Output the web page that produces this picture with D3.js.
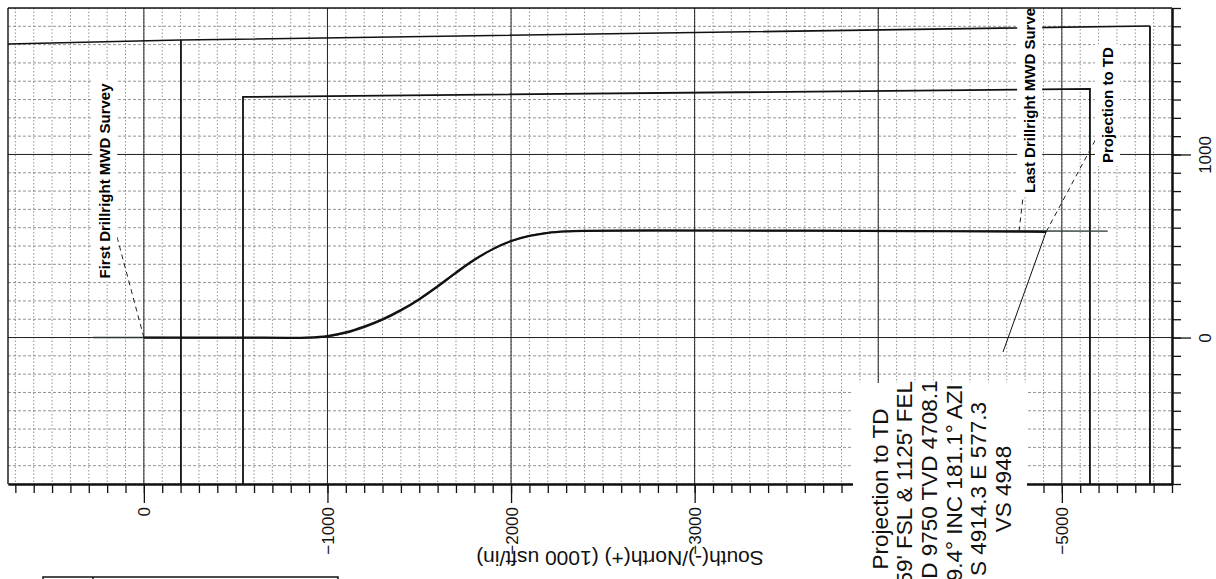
<!DOCTYPE html>
<html>
<head>
<meta charset="utf-8">
<script src="https://cdn.jsdelivr.net/npm/d3@7"></script>
<style>
  body { margin: 0; background: #fff; }
  svg { display: block; font-family: "Liberation Sans", Arial, sans-serif; }
</style>
</head>
<body>
<div id="chart"></div>
<script>
// plan view, rotated: horizontal = South(-)/North(+), vertical = West(-)/East(+), feet
const nsTicks = [0, -1000, -2000, -3000, -4000, -5000];
const ewTicks = [0, 1000];

// planned well path (ns, ew)
const planNS = [275, 0, -900, -1000, -1100, -1200, -1300, -1400, -1500, -1600, -1700, -1800, -1900, -2000, -2100, -2200, -2300, -2400, -3500, -4500, -5250];
const planEW = [0, 0, 0, 6, 24, 55, 95, 146, 206, 276, 351, 422, 481, 526, 555, 572, 580, 583, 583, 582, 581];

// actual surveys (ns, ew)
const surveyNS = [0, -500, -900, -1000, -1100, -1200, -1300, -1400, -1500, -1600, -1700, -1800, -1900, -2000, -2100, -2200, -2300, -2400, -2750, -3500, -4200, -4767, -4914.3];
const surveyEW = [0, 0, 0, 8, 28, 60, 100, 150, 210, 280, 355, 425, 483, 527, 555, 572, 580, 583, 585, 584, 581, 579, 577.3];

// lease / section lines and setbacks
const sectionNS = [740, -202, -5480];
const sectionEW = [1603, 1625, 1702];
const setbackNS = [-540, -5153];
const setbackEW = [1314, 1358];

// annotations
const noteNames = ["First Drillright MWD Survey", "Last Drillright MWD Survey", "Projection to TD"];
const notePointNS = [0, -4767, -4914.3];
const notePointEW = [0, 580, 577.3];
const noteLeadNS = [146, -4788, -5191];
const noteLeadEW = [549, 763, 1095];
const noteTextNS = [212, -4826, -5250];
const noteTextEW = [855, 790, 953];

const tdLines = ["Projection to TD", "259' FSL & 1125' FEL", "MD 9750 TVD 4708.1", "89.4° INC 181.1° AZI", "S 4914.3 E 577.3", "VS 4948"];

const W = 1216, H = 579;
const plot = {left: 8, right: 1172, top: 8, bottom: 484};

const x = d3.scaleLinear().domain([740, -5600]).range([plot.left, plot.right]);
const y = d3.scaleLinear().domain([-800, 1800]).range([plot.bottom, plot.top]);

const svg = d3.select("#chart").append("svg").attr("width", W).attr("height", H);
svg.append("rect").attr("width", W).attr("height", H).attr("fill", "#fff");

svg.append("defs").append("clipPath").attr("id", "clip")
  .append("rect").attr("x", plot.left).attr("y", plot.top)
  .attr("width", plot.right - plot.left).attr("height", plot.bottom - plot.top);

const g = svg.append("g").attr("clip-path", "url(#clip)");

// minor grid
const minorNS = d3.range(700, -5601, -100);
const minorEW = d3.range(-800, 1801, 100);
g.selectAll(".vminor").data(minorNS).enter().append("line")
  .attr("x1", d => x(d)).attr("x2", d => x(d))
  .attr("y1", plot.top).attr("y2", plot.bottom)
  .attr("stroke", "#777").attr("stroke-width", 0.8).attr("stroke-dasharray", "1.5,2");
g.selectAll(".hminor").data(minorEW).enter().append("line")
  .attr("y1", d => y(d)).attr("y2", d => y(d))
  .attr("x1", plot.left).attr("x2", plot.right)
  .attr("stroke", "#777").attr("stroke-width", 0.8).attr("stroke-dasharray", "3,2");

// major grid
g.selectAll(".vmajor").data(nsTicks).enter().append("line")
  .attr("x1", d => x(d)).attr("x2", d => x(d))
  .attr("y1", plot.top).attr("y2", plot.bottom)
  .attr("stroke", "#222").attr("stroke-width", 1);
g.selectAll(".hmajor").data(ewTicks).enter().append("line")
  .attr("y1", d => y(d)).attr("y2", d => y(d))
  .attr("x1", plot.left).attr("x2", plot.right)
  .attr("stroke", "#222").attr("stroke-width", 1);

// section lines
const line = d3.line().x(d => x(d[0])).y(d => y(d[1]));
const secPts = sectionNS.map((d, i) => [d, sectionEW[i]]);
g.append("path").attr("d", line(secPts)).attr("fill", "none").attr("stroke", "#111").attr("stroke-width", 1.6);
[1, 2].forEach(i => {
  g.append("path").attr("d", line([[sectionNS[i], sectionEW[i]], [sectionNS[i], -800]]))
    .attr("fill", "none").attr("stroke", "#111").attr("stroke-width", 1.8);
});
// setback lines
g.append("path")
  .attr("d", line([[setbackNS[0], -800], [setbackNS[0], setbackEW[0]], [setbackNS[1], setbackEW[1]], [setbackNS[1], -800]]))
  .attr("fill", "none").attr("stroke", "#111").attr("stroke-width", 1.8);

// well paths
const wellLine = d3.line().x(d => x(d[0])).y(d => y(d[1])).curve(d3.curveCatmullRom.alpha(0.5));
g.append("path").attr("d", wellLine(planNS.map((d, i) => [d, planEW[i]])))
  .attr("fill", "none").attr("stroke", "#2a3a30").attr("stroke-width", 1.4);
g.append("path").attr("d", wellLine(surveyNS.map((d, i) => [d, surveyEW[i]])))
  .attr("fill", "none").attr("stroke", "#111").attr("stroke-width", 2.2);

// annotation leaders and labels
noteNames.forEach((name, i) => {
  g.append("line")
    .attr("x1", x(notePointNS[i])).attr("y1", y(notePointEW[i]))
    .attr("x2", x(noteLeadNS[i])).attr("y2", y(noteLeadEW[i]))
    .attr("stroke", "#222").attr("stroke-width", 1).attr("stroke-dasharray", "5,4");
  const tg = g.append("g")
    .attr("transform", `translate(${x(noteTextNS[i])},${y(noteTextEW[i])}) rotate(-90)`);
  const t = tg.append("text")
    .attr("text-anchor", i === 0 ? "middle" : "start")
    .attr("dy", "0.35em")
    .style("font-size", "15px").style("font-weight", "bold")
    .text(name);
  const bb = t.node().getBBox();
  tg.insert("rect", "text")
    .attr("x", bb.x - 3).attr("y", bb.y - 4)
    .attr("width", bb.width + 6).attr("height", bb.height + 8)
    .attr("fill", "#fff");
});

// frame
svg.append("line").attr("x1", plot.left).attr("x2", plot.left).attr("y1", plot.top).attr("y2", plot.bottom)
  .attr("stroke", "#111").attr("stroke-width", 1.4);
svg.append("line").attr("x1", plot.left).attr("x2", plot.right).attr("y1", plot.top).attr("y2", plot.top)
  .attr("stroke", "#111").attr("stroke-width", 1.4);

// bottom axis
const bottomMinor = svg.append("g").attr("transform", `translate(0,${plot.bottom})`)
  .call(d3.axisBottom(x).tickValues(minorNS).tickSize(9).tickFormat("").tickSizeOuter(0));
const bottomMajor = svg.append("g").attr("transform", `translate(0,${plot.bottom})`)
  .call(d3.axisBottom(x).tickValues(nsTicks).tickSize(19).tickSizeOuter(0).tickFormat(d3.format("d")));
bottomMajor.selectAll("text")
  .attr("x", -23).attr("y", 0).attr("dy", "0.35em")
  .attr("transform", "rotate(-90)")
  .style("text-anchor", "end").style("font-size", "17px")
  .style("font-family", "'Liberation Sans', Arial, sans-serif").attr("fill", "#111");

// right axis
const rightMinor = svg.append("g").attr("transform", `translate(${plot.right},0)`)
  .call(d3.axisRight(y).tickValues(minorEW).tickSize(9).tickFormat("").tickSizeOuter(0));
const rightMajor = svg.append("g").attr("transform", `translate(${plot.right},0)`)
  .call(d3.axisRight(y).tickValues(ewTicks).tickSize(19).tickSizeOuter(0).tickFormat(d3.format("d")));
rightMajor.selectAll("text")
  .attr("x", 0).attr("y", 0).attr("dy", "0.35em")
  .attr("transform", "translate(33,0) rotate(-90)")
  .style("text-anchor", "middle").style("font-size", "17px")
  .style("font-family", "'Liberation Sans', Arial, sans-serif").attr("fill", "#111");

[bottomMinor, bottomMajor, rightMinor, rightMajor].forEach(a => {
  a.selectAll("line").attr("stroke", "#111").attr("stroke-width", 1.3);
  a.select(".domain").attr("stroke", "#111").attr("stroke-width", 2);
});

// axis title (upside down)
svg.append("text")
  .attr("transform", "translate(620,558) rotate(180)")
  .attr("text-anchor", "middle").attr("dominant-baseline", "central")
  .style("font-size", "21px").attr("fill", "#111")
  .text("South(-)/North(+) (1000 usft/in)");

// projection to TD box
const boxX = 853, boxY = 383;
svg.append("line")
  .attr("x1", 1003).attr("y1", 352)
  .attr("x2", x(notePointNS[2])).attr("y2", y(notePointEW[2]))
  .attr("stroke", "#111").attr("stroke-width", 1);
svg.append("rect").attr("x", boxX).attr("y", boxY).attr("width", 174).attr("height", H - boxY).attr("fill", "#fff");
svg.selectAll(".tdline").data(tdLines).enter().append("text")
  .attr("transform", (d, i) => `translate(${880 + i * 24.6},489) rotate(-90)`)
  .attr("text-anchor", "middle").attr("dy", "0.35em")
  .style("font-size", "22.5px").attr("fill", "#111")
  .text(d => d);

// legend box stub at bottom left
svg.append("rect").attr("x", 43).attr("y", 577).attr("width", 295).attr("height", 12)
  .attr("fill", "none").attr("stroke", "#111").attr("stroke-width", 1.5);
svg.append("line").attr("x1", 93).attr("x2", 93).attr("y1", 577).attr("y2", 579)
  .attr("stroke", "#111").attr("stroke-width", 1.5);
</script>
</body>
</html>
